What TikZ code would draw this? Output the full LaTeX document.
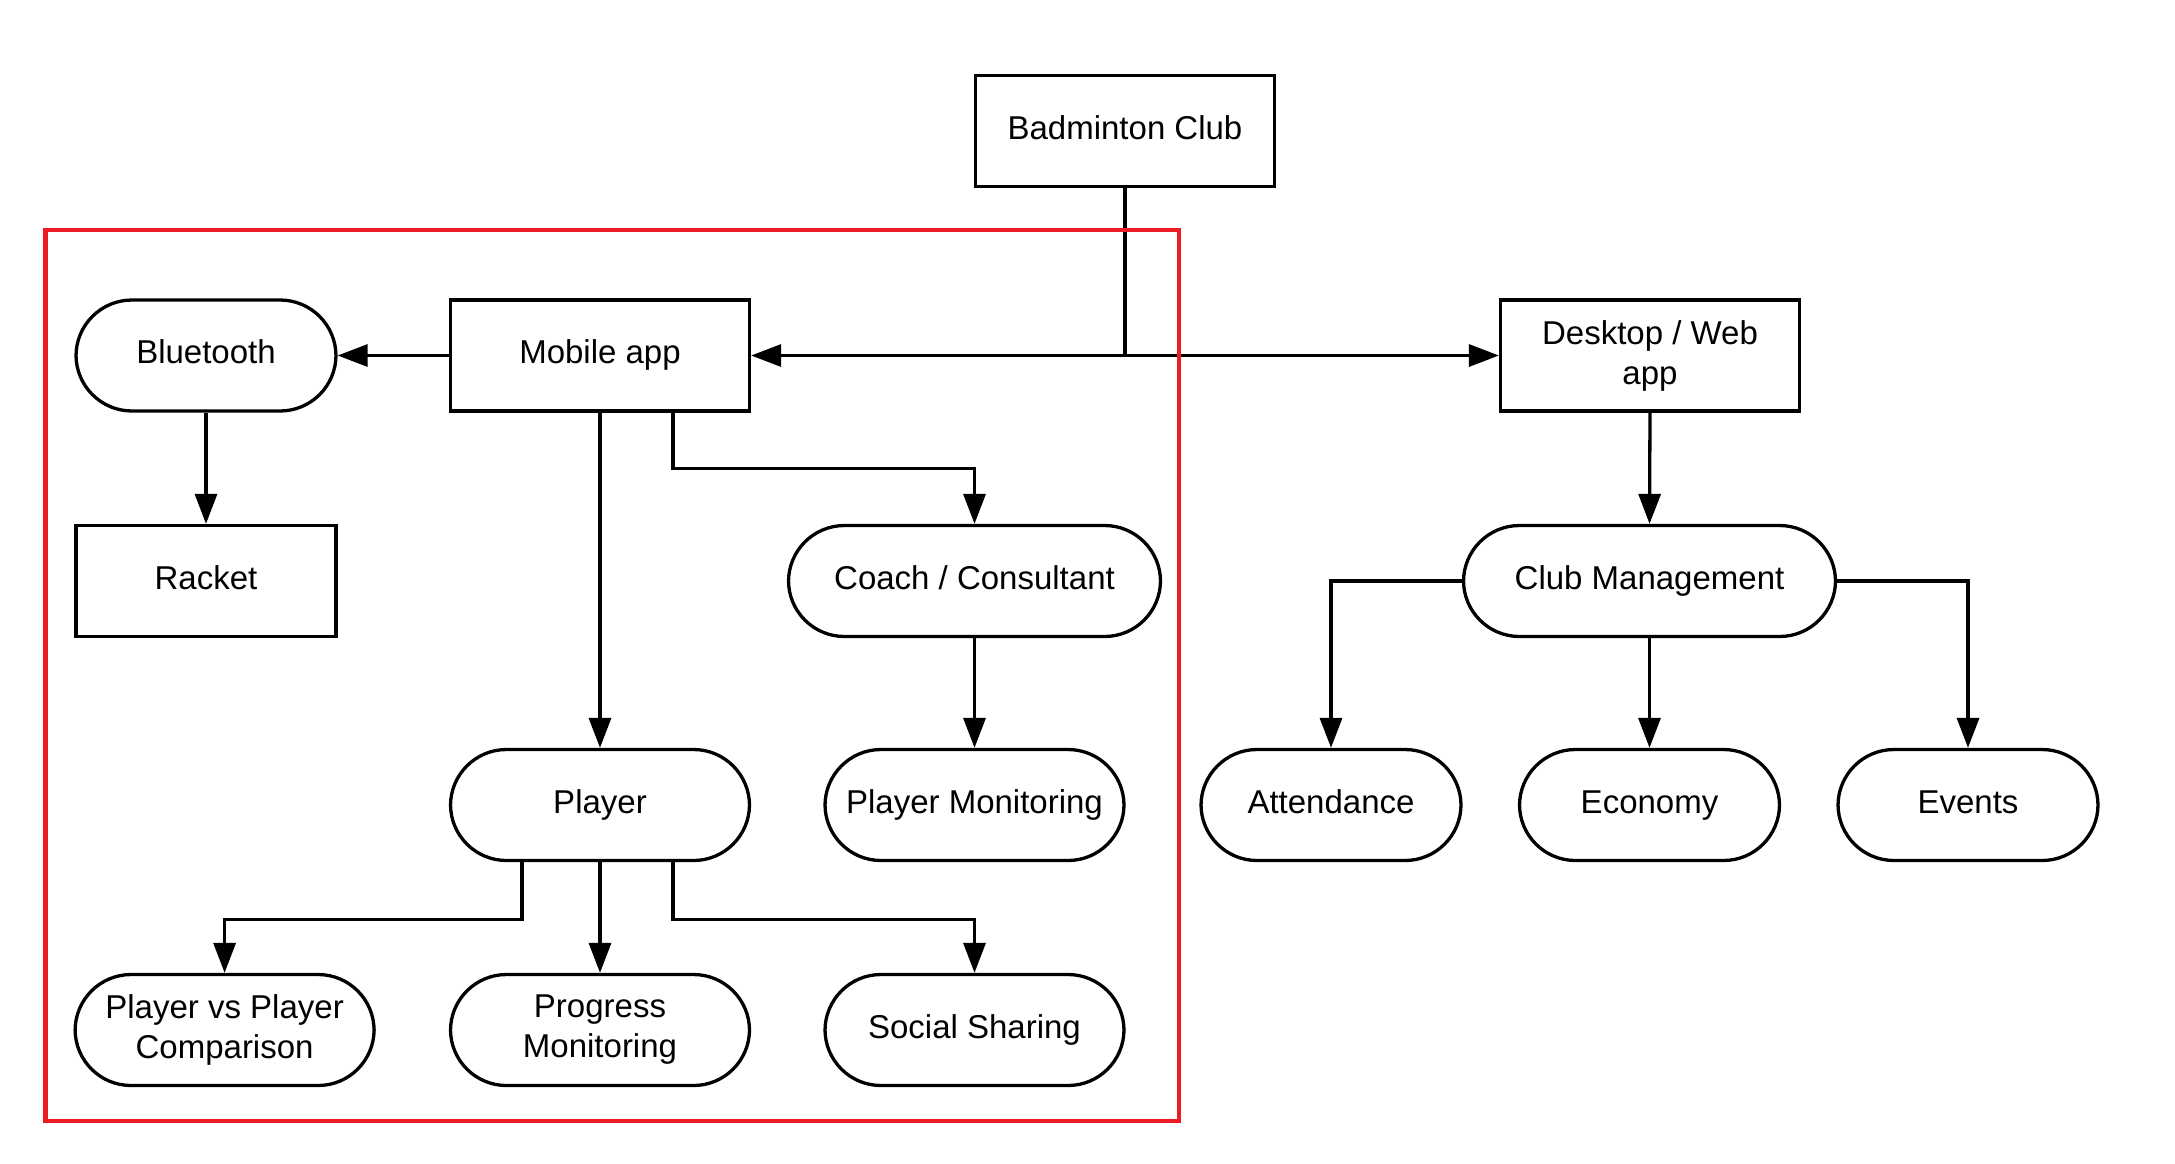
\documentclass[tikz,border=0pt]{standalone}
\usepackage{fontspec}
\setmainfont{Liberation Sans}
\usetikzlibrary{arrows.meta}
\definecolor{boxred}{RGB}{237,28,36}
\tikzset{
  base/.style={draw=black, line width=3.3pt, fill=white, align=center, inner sep=0pt,
    font=\fontsize{33}{40}\selectfont, minimum height=111pt},
  oneline/.style={text height=24.75pt, text depth=8.25pt},
  rectbox/.style={base, rectangle, oneline},
  pill/.style={base, rectangle, rounded corners=56pt, oneline},
  rectboxtwo/.style={base, rectangle},
  pilltwo/.style={base, rectangle, rounded corners=56pt},
  wS/.style={minimum width=260pt},
  wM/.style={minimum width=299pt},
  wL/.style={minimum width=372pt},
  arr/.style={draw=black, line width=3.3pt, -{Triangle[length=30pt,width=22pt]}},
}
\begin{document}
\begin{tikzpicture}[x=1pt,y=-1pt]
\useasboundingbox[fill=white] (0,0) rectangle (2175,1163);
% nodes
\node[rectbox, wM] (bc) at (1125,131) {Badminton Club};
\node[pill, wS] (bt) at (206,355.5) {Bluetooth};
\node[rectbox, wM] (mob) at (600,355.5) {Mobile app};
\node[rectboxtwo, wM] (desk) at (1650,355.5) {Desktop / Web\\app};
\node[rectbox, wS] (rk) at (206,581) {Racket};
\node[pill, wL] (coach) at (974.5,581) {Coach / Consultant};
\node[pill, wL] (cm) at (1649.5,581) {Club Management};
\node[pill, wM] (pl) at (600,805) {Player};
\node[pill, wM] (pmon) at (974.5,805) {Player Monitoring};
\node[pill, wS] (att) at (1331,805) {Attendance};
\node[pill, wS] (eco) at (1649.5,805) {Economy};
\node[pill, wS] (ev) at (1968,805) {Events};
\node[pilltwo, wM] (pvp) at (224.6,1030) {Player vs Player\\Comparison};
\node[pilltwo, wM] (prog) at (600,1030) {Progress\\Monitoring};
\node[pill, wM] (soc) at (974.5,1030) {Social Sharing};
% connectors
\draw[arr] (bc.south) |- (mob.east);
\draw[arr] (bc.south) |- (desk.west);
\draw[arr] (mob.west) -- (bt.east);
\draw[arr] (bt.south) -- (rk.north);
\draw[arr] (mob.south) -- (pl.north);
\draw[arr] ([xshift=73pt]mob.south) -- ++(0,56) -| (coach.north);
\draw[arr] (coach.south) -- (pmon.north);
\draw[arr] ([xshift=-78pt]pl.south) -- ++(0,57) -| (pvp.north);
\draw[arr] (pl.south) -- (prog.north);
\draw[arr] ([xshift=73pt]pl.south) -- ++(0,57) -| (soc.north);
\draw[arr] (desk.south) -- (cm.north);
\draw[arr] (cm.west) -| (att.north);
\draw[arr] (cm.south) -- (eco.north);
\draw[arr] (cm.east) -| (ev.north);
% red frame
\draw[boxred, line width=4.3pt] (45.5,230) rectangle (1179,1121);
\end{tikzpicture}
\end{document}
